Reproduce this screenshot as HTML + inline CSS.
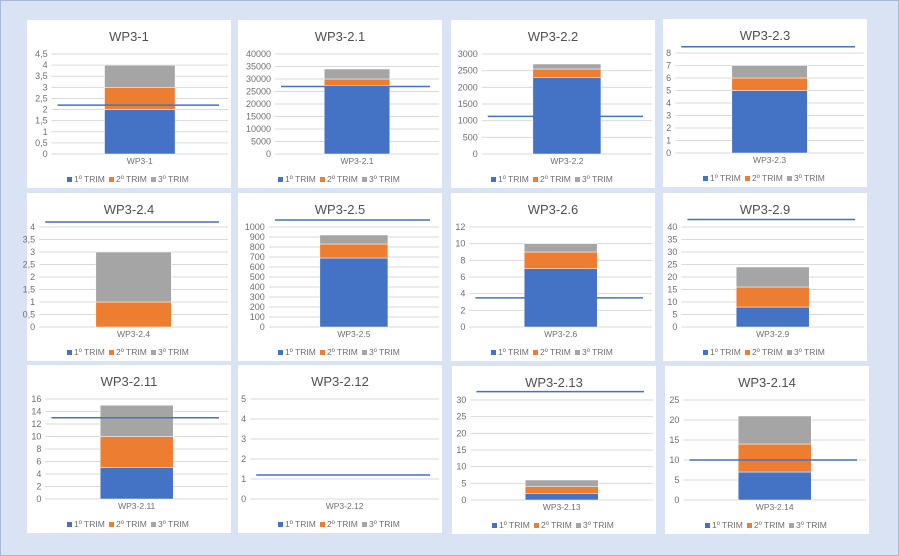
<!DOCTYPE html>
<html><head><meta charset="utf-8"><style>
body{margin:0;width:899px;height:556px;background:#dae3f3;overflow:hidden;font-family:"Liberation Sans",sans-serif;position:relative}
#frame{position:absolute;left:0;top:0;width:897px;height:554px;border:1px solid #a9b8d6}
svg{position:absolute;left:0;top:0}
</style></head><body>
<div id="frame"></div>
<svg id="c" width="899" height="556"></svg>
<script>
const titles=["WP3-1","WP3-2.1","WP3-2.2","WP3-2.3","WP3-2.4","WP3-2.5","WP3-2.6","WP3-2.9","WP3-2.11","WP3-2.12","WP3-2.13","WP3-2.14"];
const axisMax=[4.5,40000,3000,8,4,1000,12,40,16,5,30,25];
const axisStep=[0.5,5000,500,1,0.5,100,2,5,2,1,5,5];
const trim1=[2,27500,2300,5,0,690,7,8,5,0,2,7];
const trim2=[1,2500,250,1,1,140,2,8,5,0,2,7];
const trim3=[1,4000,150,1,2,90,1,8,5,0,2,7];
const target=[2.2,27000,1130,8.5,4.2,1070,3.5,43,13,1.2,32.5,10];
const panels=[[27,20],[238,20],[451,20],[663,19],[27,193],[238,193],[451,193],[663,193],[27,365],[238,365],[452,366],[665,366]];
const colors=["#4472c4","#ed7d31","#a5a5a5"];
const svg=document.getElementById('c');
const NS="http://www.w3.org/2000/svg";
function mk(t,a,p){const e=document.createElementNS(NS,t);for(const k in a)e.setAttribute(k,a[k]);(p||svg).appendChild(e);return e;}
function fmt(v){let s=(Math.round(v*10)/10).toString();return s.replace('.',',');}
titles.forEach((t,i)=>{
  const [px,py]=panels[i],W=204,H=168;
  const g=mk('g',{});
  
  
  const bg=mk('rect',{x:px,y:py,width:W,height:H,fill:'#fff'},g);
  
  
  const tt=mk('text',{x:px+W/2,y:py+21,'text-anchor':'middle','font-size':13,fill:'#505050'},g);tt.textContent=t;
  
  
  const maxLabel=fmt(axisMax[i]).length;
  const gl=px+6+maxLabel*6.2, gr=px+W-3;
  const top=py+34, bot=py+134;
  const y=v=>bot-(v/axisMax[i])*(bot-top);
  const n=Math.round(axisMax[i]/axisStep[i]);
  for(let k=0;k<=n;k++){
    const v=k*axisStep[i];
    const ln=mk('line',{x1:gl,x2:gr,y1:y(v),y2:y(v),stroke:'#d9d9d9','stroke-width':1},g);
    
    
    const lb=mk('text',{x:gl-4,y:y(v)+3,'text-anchor':'end','font-size':9,fill:'#6f6f6f'},g);lb.textContent=fmt(v);
    
    
  }
  const cx=(gl+gr)/2, bw=(gr-gl)*0.4;
  let acc=0;
  [trim1[i],trim2[i],trim3[i]].forEach((v,s)=>{
    if(v<=0){return;}
    const r=mk('rect',{x:cx-bw/2,y:y(acc+v),width:bw,height:y(acc)-y(acc+v),fill:colors[s],stroke:'#fff','stroke-width':0.5},g);
    
    
    acc+=v;
  });
  const tl=mk('line',{x1:gl+6,x2:gr-9,y1:y(target[i]),y2:y(target[i]),stroke:'#4472c4','stroke-width':1.5},g);
  
  
  const cl=mk('text',{x:cx,y:bot+10,'text-anchor':'middle','font-size':8.5,fill:'#6f6f6f'},g);cl.textContent=t;
  
  
  const names=["1º TRIM","2º TRIM","3º TRIM"];
  const lx=px+W/2-62;
  names.forEach((nm,s)=>{
    const ex=lx+s*42;
    const sw=mk('rect',{x:ex,y:py+157,width:5,height:5,fill:colors[s]},g);
    
    
    const lt=mk('text',{x:ex+7,y:py+162,'font-size':8.5,fill:'#6f6f6f'},g);lt.textContent=nm;
    
    
  });
});
</script>
</body></html>
